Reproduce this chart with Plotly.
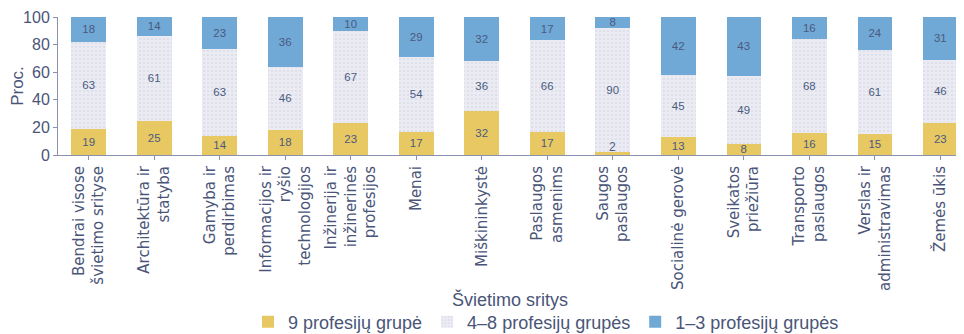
import plotly.graph_objects as go

categories = [
    "Bendrai visose<br>švietimo srityse",
    "Architektūra ir<br>statyba",
    "Gamyba ir<br>perdirbimas",
    "Informacijos ir<br>ryšio<br>technologijos",
    "Inžinerija ir<br>inžinerinės<br>profesijos",
    "Menai",
    "Miškininkystė",
    "Paslaugos<br>asmenims",
    "Saugos<br>paslaugos",
    "Socialinė gerovė",
    "Sveikatos<br>priežiūra",
    "Transporto<br>paslaugos",
    "Verslas ir<br>administravimas",
    "Žemės ūkis",
]
group9 = [19, 25, 14, 18, 23, 17, 32, 17, 2, 13, 8, 16, 15, 23]
group4_8 = [63, 61, 63, 46, 67, 54, 36, 66, 90, 45, 49, 68, 61, 46]
group1_3 = [18, 14, 23, 36, 10, 29, 32, 17, 8, 42, 43, 16, 24, 31]
series_names = ["9 profesijų grupė", "4–8 profesijų grupės", "1–3 profesijų grupės"]
y_ticks = [0, 20, 40, 60, 80, 100]

FONT = "Liberation Sans, Arial, sans-serif"
TICKFONT = "DejaVu Sans, Liberation Sans, sans-serif"
TXT = "#4a5578"
AX = "#8a90b0"
VAL = "#4a5a80"

# page has an 8px body margin; work in page pixels and convert
OFF = 8
W, H = 964 - OFF, 334 - OFF
L, T, B_ = 58 - OFF, 17 - OFF, 155 - OFF   # plot left, top, bottom (figure px)
R = 2
PH = B_ - T
PW = W - L - R

x = list(range(len(categories)))
small = [v < 5 for v in group9]
g9_text = ["" if s else str(v) for v, s in zip(group9, small)]

fig = go.Figure()
fig.add_bar(x=x, y=group9, name=series_names[0], text=g9_text,
            marker=dict(color="#e8c862", line=dict(width=0)))
fig.add_bar(x=x, y=group4_8, name=series_names[1], text=group4_8,
            marker=dict(color="#e2e3ec", line=dict(width=0),
                        pattern=dict(shape=".", fgcolor="#cfd1de", bgcolor="#ebecf3", size=4, solidity=0.3)))
fig.add_bar(x=x, y=group1_3, name=series_names[2], text=group1_3,
            marker=dict(color="#70a8d6", line=dict(width=0)))
fig.update_traces(textposition="inside", insidetextanchor="middle", textangle=0,
                  textfont=dict(family=FONT, size=12, color=VAL),
                  cliponaxis=False)

annotations = [dict(text="Švietimo sritys", xref="paper", yref="paper",
                    x=(510 - 58) / PW, y=(155 - 299) / PH, xanchor="center", yanchor="middle",
                    showarrow=False, font=dict(size=18, color=TXT))]
for i, (v, s) in enumerate(zip(group9, small)):
    if s:
        annotations.append(dict(text=str(v), x=i, y=0, xref="x", yref="y",
                                yanchor="bottom", showarrow=False, yshift=-1,
                                font=dict(family=FONT, size=12, color=VAL)))

fig.update_layout(
    width=W, height=H,
    margin=dict(l=L, r=R, t=T, b=H - B_, autoexpand=False),
    barmode="stack", bargap=0.47,
    paper_bgcolor="white", plot_bgcolor="white",
    font=dict(family=FONT, color=TXT),
    uniformtext=dict(minsize=11, mode="show"),
    showlegend=True,
    legend=dict(orientation="h", x=(248 - 58) / PW, y=(155 - 322) / PH, xanchor="left", yanchor="middle",
                font=dict(size=18, color=TXT), itemwidth=30,
                traceorder="normal", bgcolor="rgba(0,0,0,0)"),
    xaxis=dict(range=[-0.47, 13.33], tickmode="array", tickvals=x, ticktext=categories,
               tickangle=-90, tickfont=dict(family=TICKFONT, size=15, color=TXT),
               showline=True, linecolor=AX, linewidth=1,
               ticks="outside", tickson="boundaries", ticklen=4, tickcolor=AX,
               showgrid=False, zeroline=False, automargin=False),
    yaxis=dict(range=[0, 100], tickvals=y_ticks, tickfont=dict(size=16, color=TXT),
               showline=True, linecolor=AX, linewidth=1,
               ticks="outside", ticklen=4, tickcolor=AX,
               showgrid=False, zeroline=False, automargin=False,
               title=dict(text="Proc.", font=dict(size=17, color=TXT), standoff=6)),
    annotations=annotations,
)

fig.write_html("out.html")
